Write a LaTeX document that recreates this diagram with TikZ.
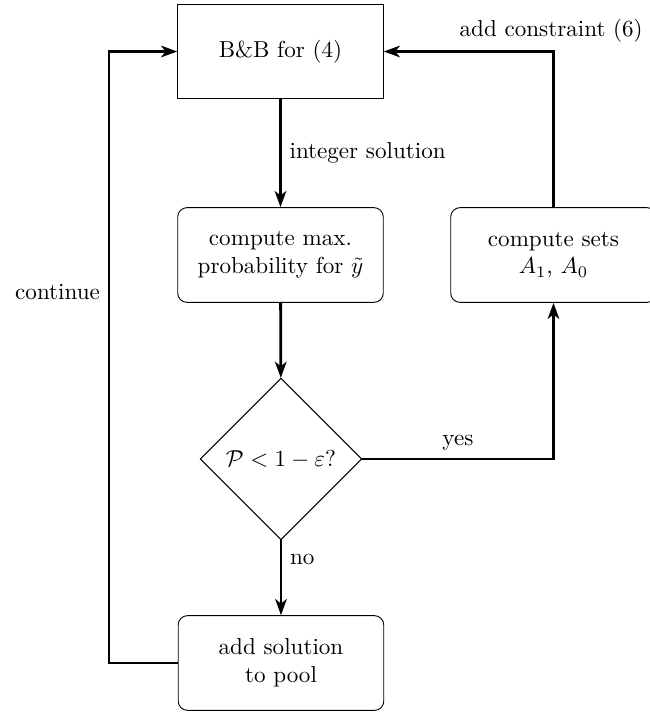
\documentclass[tikz,border=0pt]{standalone}
\usetikzlibrary{shapes.geometric,arrows.meta}
\begin{document}
\begin{tikzpicture}[x=0.433pt,y=-0.433pt,
  plainbox/.style={draw, line width=0.4pt, minimum width=89pt, minimum height=41pt, align=center, inner sep=0pt},
  roundbox/.style={plainbox, rounded corners=4pt},
  decide/.style={draw, diamond, aspect=1, line width=0.4pt, minimum width=70pt, minimum height=70pt, inner sep=0pt},
  flow/.style={line width=1.2pt, -{Stealth[length=7pt,width=5pt,inset=2pt]}}]
\useasboundingbox (0,0) rectangle (650,715);
\node[plainbox] (bb) at (280.5,51.5) {B\&B for (4)};
\node[roundbox] (cmp) at (280.5,255) {compute max.\\probability for $\tilde{y}$};
\node[roundbox] (sets) at (553.5,255) {compute sets\\$A_1$, $A_0$};
\node[decide] (dia) at (281,459) {$\mathcal{P}<1-\varepsilon$?};
\node[roundbox] (pool) at (281,663) {add solution\\to pool};
\coordinate (cl1) at (109,663);
\coordinate (cl2) at (109,51.5);
\coordinate (cr) at (553.5,51.5);
\coordinate (cy) at (553.5,459);
\draw[flow] (bb) -- node[right] {integer solution} (cmp);
\draw[flow] (cmp) -- (dia);
\draw[flow] (dia) -- node[right, pos=0.25] {no} (pool);
\draw[flow] (dia.east) -- node[above] {yes} (cy) -- (sets.south);
\draw[flow] (sets.north) -- (cr) node[above, xshift=-1pt] {add constraint (6)} -- (bb.east);
\draw[flow] (pool.west) -- (cl1) -- node[left, pos=0.607] {continue} (cl2) -- (bb.west);
\end{tikzpicture}
\end{document}
